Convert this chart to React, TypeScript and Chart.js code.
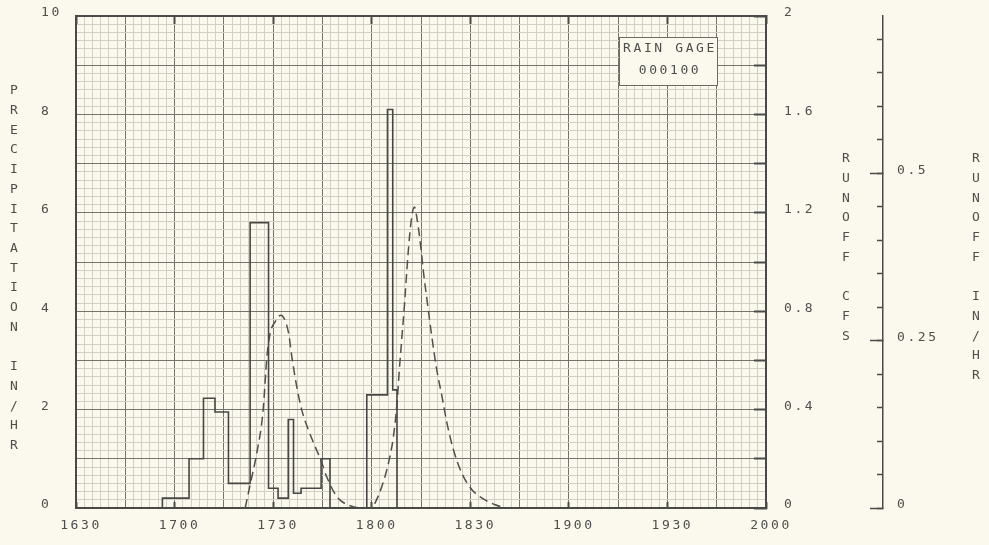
import React, { useEffect, useRef } from 'react';
import { Chart, registerables } from 'chart.js';

Chart.register(...registerables);

// ---- time axis: minutes after midnight (16:30 .. 20:00)
const START_MIN = 990;
const END_MIN = 1200;

const xTickLabels = ['1630', '1700', '1730', '1800', '1830', '1900', '1930', '2000'];
const precipTickLabels = ['0', '2', '4', '6', '8', '10'];
const cfsTickLabels = ['0', '0.4', '0.8', '1.2', '1.6', '2'];
const inhrTickValues = [0, 0.25, 0.5];
const inhrTickLabels = ['0', '0.25', '0.5'];
const inhrMinorTickValues = [0, 0.05, 0.1, 0.15, 0.2, 0.25, 0.3, 0.35, 0.4, 0.45, 0.5, 0.55, 0.6, 0.65, 0.7];
const INHR_MAX = 0.735;

// ---- precipitation hyetograph (minutes after 16:30, in/hr held until next break)
const precipMinutes = [0, 26.3, 34.4, 38.8, 42.3, 46.4, 53.0, 58.6, 61.5, 64.6, 66.2, 68.5, 74.6, 77.3, 88.5, 94.8, 96.4, 97.7, 210];
const precipInHr = [0, 0.2, 1.0, 2.23, 1.95, 0.5, 5.8, 0.4, 0.2, 1.8, 0.3, 0.4, 1.0, 0, 2.3, 8.1, 2.4, 0, 0];

// ---- runoff hydrograph (minutes after 16:30, cfs)
const runoffMinutes = [
  51.5, 53.0, 55.1, 56.9, 58.1, 59.1, 60.6, 62.4, 63.3, 64.7, 65.7, 67.2, 68.7, 70.7, 72.8, 74.8, 76.3, 79.4, 83.4, 87.4,
  90.1, 91.0, 93.1, 95.1, 96.6, 97.7, 98.4, 99.2, 100.0, 100.7, 101.5, 102.4, 103.0, 103.7, 104.7, 105.8, 107.1, 108.3,
  109.8, 111.4, 112.9, 114.9, 117.4, 120.5, 123.5, 127.6, 130.6,
];
const runoffCfs = [
  0, 0.095, 0.229, 0.39, 0.614, 0.711, 0.757, 0.784, 0.772, 0.711, 0.614, 0.492, 0.399, 0.318, 0.249, 0.184, 0.127, 0.046, 0.009, 0,
  0, 0.02, 0.088, 0.183, 0.29, 0.426, 0.561, 0.696, 0.832, 0.967, 1.102, 1.202, 1.224, 1.183, 1.088, 0.953, 0.818, 0.696,
  0.561, 0.453, 0.345, 0.236, 0.142, 0.074, 0.041, 0.013, 0,
];

const leftTitle = 'PRECIPITATION IN/HR';
const cfsTitle = 'RUNOFF CFS';
const inhrTitle = 'RUNOFF IN/HR';
const gageLines = ['RAIN GAGE', '000100'];

// ---- styles
const BG = '#fbf9ee';
const TEXT = '#4e4e4c';
const FRAME = '#4a4a48';
const DARK = '#74746f';
const LIGHT = '#d2d0c5';
const FONT_FAMILY = "'DejaVu Sans Mono', monospace";
const FONT = { family: FONT_FAMILY, size: 13 };
const LETTER_SPACING = '2.6px';
const LINE_STEP = 19.7;

const noPad = (s: any) => {
  s.paddingTop = 0;
  s.paddingBottom = 0;
  s.paddingLeft = 0;
  s.paddingRight = 0;
};

const paperPlugin = {
  id: 'paper',
  beforeDraw(chart: any) {
    const ctx = chart.ctx;
    ctx.save();
    ctx.fillStyle = BG;
    ctx.fillRect(0, 0, chart.width, chart.height);
    ctx.restore();
    ctx.letterSpacing = LETTER_SPACING;
  },
  beforeDatasetsDraw(chart: any) {
    const ctx = chart.ctx;
    const a = chart.chartArea;
    const l = a.right - 147;
    const r = a.right - 49;
    const t = a.top + 21;
    const b = a.top + 69;
    ctx.save();
    ctx.fillStyle = BG;
    ctx.fillRect(l, t, r - l, b - t);
    ctx.strokeStyle = '#6a6a66';
    ctx.lineWidth = 1;
    ctx.strokeRect(l + 0.5, t + 0.5, r - l, b - t);
    ctx.fillStyle = TEXT;
    ctx.font = `13px ${FONT_FAMILY}`;
    ctx.letterSpacing = LETTER_SPACING;
    ctx.textAlign = 'center';
    ctx.textBaseline = 'middle';
    const cx = (l + r) / 2 + 2;
    ctx.fillText(gageLines[0], cx, t + 12);
    ctx.fillText(gageLines[1], cx, t + 34);
    ctx.restore();
  },
  afterDraw(chart: any) {
    const ctx = chart.ctx;
    const a = chart.chartArea;
    ctx.save();
    ctx.fillStyle = TEXT;
    ctx.font = `13px ${FONT_FAMILY}`;
    ctx.letterSpacing = '0px';
    ctx.textAlign = 'center';
    ctx.textBaseline = 'middle';
    const drawStack = (text: string, x: number, y0: number) => {
      for (let i = 0; i < text.length; i++) {
        const ch = text[i];
        if (ch !== ' ') ctx.fillText(ch, x, y0 + i * LINE_STEP);
      }
    };
    drawStack(leftTitle, a.left - 62, a.top + 75);
    drawStack(cfsTitle, a.right + 80, a.top + 143);
    drawStack(inhrTitle, a.right + 210, a.top + 143);
    ctx.restore();
  },
};

export default function App() {
  const ref = useRef<HTMLCanvasElement>(null);

  useEffect(() => {
    document.body.style.margin = '0';
    document.body.style.background = BG;
    const canvas = ref.current!;

    const precipData = precipMinutes.map((m, i) => ({ x: START_MIN + m, y: precipInHr[i] }));
    const runoffData = runoffMinutes.map((m, i) => ({ x: START_MIN + m, y: runoffCfs[i] }));

    const chart = new Chart(canvas, {
      type: 'line',
      data: {
        datasets: [
          {
            label: 'Precipitation (in/hr)',
            data: precipData,
            yAxisID: 'y',
            xAxisID: 'x',
            stepped: 'before',
            borderColor: '#474745',
            borderWidth: 1.6,
            pointRadius: 0,
            fill: false,
          },
          {
            label: 'Runoff (cfs)',
            data: runoffData,
            yAxisID: 'y1',
            xAxisID: 'x',
            borderColor: '#4f4f4d',
            borderWidth: 1.5,
            borderDash: [9, 5],
            cubicInterpolationMode: 'monotone',
            pointRadius: 0,
            fill: false,
          },
        ],
      },
      options: {
        responsive: false,
        animation: false,
        devicePixelRatio: 1,
        layout: { padding: { left: 41, top: 16, right: 0, bottom: 0 } },
        plugins: {
          legend: { display: false },
          tooltip: { enabled: false },
        },
        scales: {
          x: {
            type: 'linear',
            position: 'bottom',
            min: START_MIN,
            max: END_MIN,
            afterFit: (s: any) => {
              s.height = 37;
              noPad(s);
            },
            ticks: {
              count: 85,
              autoSkip: false,
              maxRotation: 0,
              padding: 16,
              labelOffset: 5,
              color: TEXT,
              font: FONT,
              callback: (_v: any, i: number) => (i % 12 === 0 ? xTickLabels[i / 12] : ''),
            },
            grid: {
              color: (c: any) => (c.index % 6 === 0 ? DARK : LIGHT),
              lineWidth: 1,
              drawTicks: true,
              tickLength: -6,
              tickWidth: 2,
              tickColor: (c: any) => (c.index % 12 === 0 ? FRAME : 'rgba(0,0,0,0)'),
            },
            border: { color: FRAME, width: 2 },
          },
          x2: {
            type: 'linear',
            position: 'top',
            min: START_MIN,
            max: END_MIN,
            afterFit: (s: any) => {
              s.height = 0;
              noPad(s);
            },
            ticks: { stepSize: 30, display: false },
            grid: { drawOnChartArea: false, drawTicks: true, tickLength: -8, tickWidth: 2, tickColor: FRAME },
            border: { color: FRAME, width: 2 },
          },
          y: {
            type: 'linear',
            position: 'left',
            weight: 0,
            min: 0,
            max: 10,
            afterFit: (s: any) => {
              s.width = 35;
              noPad(s);
            },
            ticks: {
              count: 61,
              autoSkip: false,
              crossAlign: 'far',
              labelOffset: -3,
              color: TEXT,
              font: FONT,
              callback: (_v: any, i: number) => (i % 12 === 0 ? precipTickLabels[i / 12] : ''),
            },
            grid: {
              color: (c: any) => (c.index % 6 === 0 ? DARK : LIGHT),
              lineWidth: 1,
              drawTicks: false,
            },
            border: { color: FRAME, width: 2 },
          },
          y1: {
            type: 'linear',
            position: 'right',
            weight: 0,
            min: 0,
            max: 2,
            afterFit: (s: any) => {
              s.width = 117;
              noPad(s);
            },
            ticks: {
              count: 11,
              autoSkip: false,
              padding: 30,
              labelOffset: -3,
              color: TEXT,
              font: FONT,
              callback: (_v: any, i: number) => (i % 2 === 0 ? cfsTickLabels[i / 2] : ''),
            },
            grid: { drawOnChartArea: false, drawTicks: true, tickLength: -12, tickWidth: 2, tickColor: FRAME },
            border: { color: FRAME, width: 2 },
          },
          yMinor: {
            type: 'linear',
            position: 'right',
            weight: 1,
            min: 0,
            max: INHR_MAX,
            afterFit: (s: any) => {
              s.width = 0;
              noPad(s);
            },
            afterBuildTicks: (s: any) => {
              s.ticks = inhrMinorTickValues.map((v) => ({ value: v }));
            },
            ticks: { display: false },
            grid: { drawOnChartArea: false, drawTicks: true, tickLength: -6, tickWidth: 1.5, tickColor: FRAME },
            border: { display: false },
          },
          y2: {
            type: 'linear',
            position: 'right',
            weight: 2,
            min: 0,
            max: INHR_MAX,
            afterFit: (s: any) => {
              s.width = 106;
              noPad(s);
            },
            afterBuildTicks: (s: any) => {
              s.ticks = inhrTickValues.map((v) => ({ value: v }));
            },
            ticks: {
              autoSkip: false,
              padding: 27,
              labelOffset: -3,
              color: TEXT,
              font: FONT,
              callback: (_v: any, i: number) => inhrTickLabels[i] ?? '',
            },
            grid: { drawOnChartArea: false, drawTicks: true, tickLength: -13, tickWidth: 1.5, tickColor: FRAME },
            border: { color: FRAME, width: 1.5 },
          },
        },
      } as any,
      plugins: [paperPlugin],
    });

    return () => chart.destroy();
  }, []);

  return (
    <div style={{ width: 989, height: 545 }}>
      <canvas ref={ref} width={989} height={545} style={{ display: 'block' }} />
    </div>
  );
}
